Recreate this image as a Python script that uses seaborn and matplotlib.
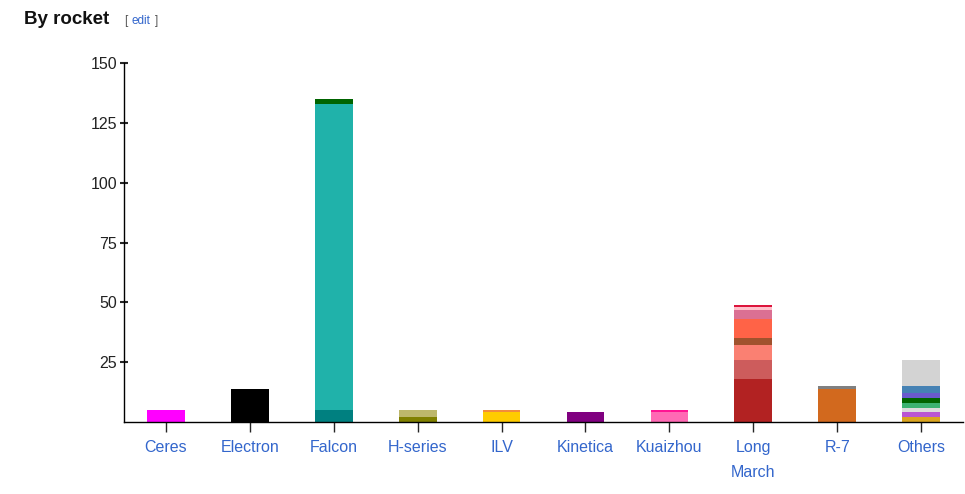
import numpy as np
import pandas as pd
import matplotlib
matplotlib.use("Agg")
import matplotlib.pyplot as plt
import seaborn as sns

# rockets and their stacked segments (bottom -> top)
rockets = ["Ceres", "Electron", "Falcon", "H-series", "ILV", "Kinetica",
           "Kuaizhou", "Long March", "R-7", "Others"]
tick_labels = ["Ceres", "Electron", "Falcon", "H-series", "ILV", "Kinetica",
               "Kuaizhou", "Long\nMarch", "R-7", "Others"]

ceres = [5]
electron = [14]
falcon = [5, 128, 2]
h_series = [2, 3]
ilv = [4, 1]
kinetica = [4]
kuaizhou = [4, 1]
long_march = [18, 8, 6, 3, 8, 4, 1, 1]
r7 = [14, 1]
others = [2, 2, 2, 2, 2, 2, 3, 11]

ceres_colors = ["#ff00ff"]
electron_colors = ["#000000"]
falcon_colors = ["#008080", "#20b2aa", "#006400"]
h_series_colors = ["#808000", "#bdb76b"]
ilv_colors = ["#ffcc00", "#f28c3c"]
kinetica_colors = ["#800080"]
kuaizhou_colors = ["#ff69b4", "#ff1493"]
long_march_colors = ["#b22222", "#cd5c5c", "#fa8072", "#a0522d", "#ff6347",
                     "#db7093", "#ffc0cb", "#dc143c"]
r7_colors = ["#d2691e", "#808080"]
others_colors = ["#daa520", "#ba55d3", "#dcdcdc", "#3cb371", "#006400",
                 "#6a5acd", "#4682b4", "#d3d3d3"]

values = [ceres, electron, falcon, h_series, ilv, kinetica, kuaizhou,
          long_march, r7, others]
colors = [ceres_colors, electron_colors, falcon_colors, h_series_colors,
          ilv_colors, kinetica_colors, kuaizhou_colors, long_march_colors,
          r7_colors, others_colors]

rows = []
for name, vals, cols in zip(rockets, values, colors):
    for i, (v, c) in enumerate(zip(vals, cols)):
        rows.append({"rocket": name, "layer": i, "value": v, "color": c})
df = pd.DataFrame(rows)
df["top"] = df.groupby("rocket")["value"].cumsum()

sns.set_style("white")
plt.rcParams["font.family"] = ["Liberation Sans", "DejaVu Sans"]

fig = plt.figure(figsize=(9.65, 4.94), dpi=100)
ax = fig.add_axes([0.1285, 0.1457, 0.8695, 0.7268])

# overpaint: highest layers first, lower layers drawn on top of them
for layer in sorted(df["layer"].unique(), reverse=True):
    sub = df[df["layer"] == layer]
    pal = dict(zip(sub["rocket"], sub["color"]))
    sns.barplot(data=sub, x="rocket", y="top", hue="rocket", palette=pal,
                order=rockets, width=0.45, saturation=1, legend=False,
                linewidth=0, ax=ax)

ax.set_xlim(-0.5, len(rockets) - 0.5)
ax.set_ylim(0, 150)
ax.set_yticks([25, 50, 75, 100, 125, 150])
ax.set_xticks(range(len(rockets)))
ax.set_xticklabels(tick_labels, color="#3366cc", fontsize=11.5, linespacing=1.8)
ax.tick_params(axis="y", labelsize=11.5, labelcolor="#222222", length=6,
               width=1.5, direction="inout", left=True, pad=2)
ax.tick_params(axis="x", length=7, width=1, direction="out", bottom=True, pad=6)
ax.set_xlabel("")
ax.set_ylabel("")
for s in ["top", "right"]:
    ax.spines[s].set_visible(False)
for s in ["left", "bottom"]:
    ax.spines[s].set_color("black")
    ax.spines[s].set_linewidth(1)

fig.text(24 / 965, 1 - 20 / 494, "By rocket", fontsize=13.5, fontweight="bold",
         va="center", ha="left", color="#111111")
fig.text(124 / 965, 1 - 21 / 494, "[", fontsize=8.5, va="center", ha="left", color="#555555")
fig.text(131 / 965, 1 - 21 / 494, "edit", fontsize=8.5, va="center", ha="left", color="#3366cc")
fig.text(155 / 965, 1 - 21 / 494, "]", fontsize=8.5, va="center", ha="left", color="#555555")

fig.savefig("out.png", dpi=100)
